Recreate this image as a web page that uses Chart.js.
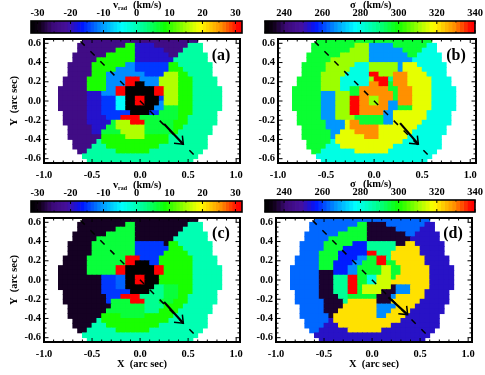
<!DOCTYPE html>
<html lang="en">
<head>
<meta charset="UTF-8">
<title>Velocity maps</title>
<style>
    body { margin: 0; background: #fff; }
    canvas { position: absolute; left: 0; top: 0; filter: blur(0.35px); }
</style>
</head>
<body>
<script src="https://cdn.jsdelivr.net/npm/chart.js"></script>
<script>
    // tick labels
    const xTicks = [-1, -0.5, 0, 0.5, 1];
    const yTicks = [-0.6, -0.4, -0.2, 0, 0.2, 0.4, 0.6];
    const xMinor = [-0.9, -0.8, -0.7, -0.6, -0.4, -0.3, -0.2, -0.1, 0.1, 0.2, 0.3, 0.4, 0.6, 0.7, 0.8, 0.9];
    const yMinor = [-0.55, -0.5, -0.45, -0.35, -0.3, -0.25, -0.15, -0.1, -0.05, 0.05, 0.1, 0.15, 0.25, 0.3, 0.35, 0.45, 0.5, 0.55];
    const vradTicks = [-30, -20, -10, 0, 10, 20, 30];
    const sigmaTicks = [240, 260, 280, 300, 320, 340];
    const vradMinor = [-25, -15, -5, 5, 15, 25];
    const sigmaMinor = [230, 250, 270, 290, 310, 330];

    // colour table, position along the bar
    const cmapPos = [0, 0.04, 0.1, 0.17, 0.24, 0.33, 0.43, 0.54, 0.635, 0.73, 0.8, 0.9, 0.98, 1];
    const cmapRgb = [[0,0,0],[16,0,24],[60,10,120],[70,16,156],[0,20,255],[0,144,255],[0,255,255],[0,255,136],[16,255,0],[160,255,0],[255,255,0],[255,144,0],[255,0,0],[255,0,0]];

    // colour bar steps
    const vradSteps = [-32,-31,-30,-29,-28,-27,-26,-25,-24,-23,-22,-21,-20,-19,-18,-17,-16,-15,-14,-13,-12,-11,-10,-9,-8,-7,-6,-5,-4,-3,-2,-1,0,1,2,3,4,5,6,7,8,9,10,11,12,13,14,15,16,17,18,19,20,21,22,23,24,25,26,27,28,29,30,31];
    const sigmaSteps = [230,232,234,236,238,240,242,244,246,248,250,252,254,256,258,260,262,264,266,268,270,272,274,276,278,280,282,284,286,288,290,292,294,296,298,300,302,304,306,308,310,312,314,316,318,320,322,324,326,328,330,332,334,336,338];

    // binned values, one letter per bin
    const valuesA = {k:-32, p:-24, i:-19, b:-15, l:-11, c:-4.5, s:2, m:1, g:6, G:9, y:15.5, r:31};
    const valuesB = {g:296, c:280, y:310, Y:316, l:267, s:288, o:329, r:338};
    const valuesC = {k:-32, d:-29, b:-15, B:-13, r:31, s:2, m:0, g:6, G:9};
    const valuesD = {d:236, i:252, b:257, B:263, l:266, c:281, s:288, g:296, G:301, y:314, Y:321, r:338};

    // rows top to bottom, letter + first-last column (34 columns of 0.05 arcsec)
    const rowsA = [
        "p5-28",
        "p4-13 G14-15 i16-19 p20-26 m27-29",
        "p4-11 G12-15 i16-21 p22-25 m26-29",
        "p3-9 G10-15 i16-22 p23-24 m25-30",
        "p3-7 G8-15 i16-23 m24-30",
        "p2-6 G7-13 l14-15 b16-22 G23-24 m25-31",
        "p2-6 G7-11 l12-15 b16-22 G23-25 m26-31",
        "p2-6 G7-9 l10-17 b18-21 y22-24 G25-26 m27-31",
        "p1-5 G6-9 l10-13 r14-16 l17-20 y21-24 G25-27 m28-32",
        "p1-5 G6-9 l10-13 r14-15 k16-17 l18-20 y21-24 G25-27 m28-32",
        "p0-5 G6-9 l10-11 r12-13 k14-19 r20-21 y22-24 G25-27 m28-33",
        "p0-5 i6-8 l9-11 r12-13 k14-19 r20-21 y22-24 G25-27 m28-33",
        "p0-5 i6-8 b9-11 c12-13 k14-15 r16-17 k18-20 b21 y22-24 G25-27 m28-33",
        "p0-5 i6-8 b9-11 c12-13 k14-15 r16-17 k18-20 l21 y22-24 G25-27 m28-33",
        "p0-5 i6-8 b9-11 c12-13 k14-19 l20-21 g22-24 G25-27 m28-33",
        "p1-5 i6-8 b9-14 k15-18 b19-20 g21-24 G25-27 m28-32",
        "p1-5 i6-9 b10-12 r13-16 g17-24 G25-26 m27-32",
        "p1-5 i6-10 g11 y12-14 r15-17 g18-23 G24-26 m27-32",
        "p2-6 i7-9 g10-11 y12-17 g18-23 G24-25 m26-31",
        "p2-6 i7-8 g9-12 y13-17 g18-23 G24 m25-31",
        "p2-8 G9-13 y14-17 G18-22 m23-30",
        "p3-7 m8 G9-22 m23-30",
        "p3-6 m7-9 G10-20 m21-30",
        "p4-5 m6-11 G12-18 m19-29",
        "m5-28",
        "m6-27"
    ];
    const rowsB = [
        "g5-28",
        "g4-12 y13-15 l16-20 g21-27 c28-29",
        "g4-11 y12-15 l16-22 g23-26 c27-29",
        "g3-9 y10-15 l16-23 g24-25 c26-30",
        "g3-7 y8-15 l16-24 c25-30",
        "g2-6 y7-12 c13-15 y16-21 l22 Y23-25 c26-31",
        "g2-6 y7-11 c12-15 y16-21 l22 Y23-26 c27-31",
        "g2-5 y6-10 c11-15 r16-17 y18-20 o21-23 Y24-27 c28-31",
        "g1-5 y6-9 c10-15 y16 r17-19 s20 o21-23 Y24-28 c29-32",
        "g1-5 y6-9 c10-15 o16-17 r18-19 g20 o21-23 Y24-28 c29-32",
        "g0-5 y6-9 c10-11 g12-13 o14-19 g20-21 o22-24 Y25-28 c29-33",
        "g0-5 l6-8 y9-11 g12-13 o14-20 g21 o22-24 Y25-28 c29-33",
        "g0-5 l6-8 y9-11 r12-13 o14-15 y16-17 o18-20 g21 o22-24 Y25-28 c29-33",
        "g0-5 l6-8 y9-11 r12-13 o14-15 y16-17 o18-19 l20-21 o22-24 Y25-28 c29-33",
        "g0-5 l6-8 y9-11 r12-13 o14-19 l20-21 g22-24 Y25-28 c29-33",
        "g1-5 l6-8 y9-11 r12-13 o14-18 l19-20 Y21-27 c28-32",
        "g1-5 l6-8 y9-12 g13-18 l19-20 Y21-27 c28-32",
        "g1-6 l7-10 Y11 o12-13 g14-18 l19-20 Y21-26 c27-32",
        "g2-6 l7-10 Y11 o12-17 Y18-25 c26-31",
        "g2-7 l8-9 Y10-12 o13-17 Y18-24 c25-31",
        "g2-7 l8 Y9-14 o15-17 Y18-23 c24-30",
        "g3-7 c8 Y9-22 c23-30",
        "g3-6 c7-9 Y10-20 c21-30",
        "g4-5 c6-12 Y13-19 c20-29",
        "c5-28",
        "c6-27"
    ];
    const rowsC = [
        "d5-28",
        "d4-13 g14-15 d16-26 m27-29",
        "d4-11 g12-15 d16-25 m26-29",
        "d3-9 g10-15 d16-24 m25-30",
        "d3-7 g8-15 d16-23 m24-30",
        "d2-6 g7-15 b16-21 d22 G23-24 m25-31",
        "d2-6 g7-15 b16-22 G23-25 m26-31",
        "d2-6 g7-15 b16-21 G22-26 m27-31",
        "d1-5 g6-13 r14-16 b17-20 G21-27 m28-32",
        "d1-5 g6-13 r14-15 k16-18 b19-20 G21-27 m28-32",
        "d0-5 g6-11 r12-13 k14-19 r20-21 G22-27 m28-33",
        "d0-5 g6-11 r12-13 k14-19 r20-21 G22-27 m28-33",
        "d0-8 b9-11 B12-13 k14-15 r16-17 k18-20 G21-27 m28-33",
        "d0-8 b9-11 B12-13 k14-15 r16-17 k18-20 G21-27 m28-33",
        "d0-8 b9-11 B12-13 k14-19 s20-21 g22-24 G25-27 m28-33",
        "d1-8 b9-14 k15-18 s19-21 g22-24 G25-27 m28-32",
        "d1-9 b10-12 r13-16 s17-21 g22-24 G25-26 m27-32",
        "d1-9 b10 g11-14 r15-17 s18-20 g21-23 G24-26 m27-32",
        "d2-10 g11-17 s18-21 G22-25 m26-31",
        "d2-9 g10-17 s18-20 G21-24 m25-31",
        "d2-8 G9-12 g13-17 G18-23 m24-30",
        "d3-7 m8 G9-22 m23-30",
        "d3-6 m7-9 G10-20 m21-30",
        "d4-5 m6-11 G12-18 m19-29",
        "m5-28",
        "m6-27"
    ];
    const rowsD = [
        "B5-28",
        "B4-13 g14-15 d16-19 B20-27 i28-29",
        "B4-11 g12-15 d16-21 B22-26 i27-29",
        "B3-9 g10-15 d16-23 B24-25 i26-30",
        "B3-7 g8-15 d16-24 i25-30",
        "B2-6 g7-12 b13-15 s16-21 d22-23 Y24-25 i26-31",
        "B2-6 g7-10 b11-15 s16-21 Y22-26 i27-31",
        "B2-5 g6-9 b10-15 r16-17 s18-20 Y21-26 i27-31",
        "B1-5 g6-9 b10-13 l14-15 g16-17 r18-19 s20 Y21-27 i28-32",
        "B1-5 g6-8 b9-12 l13-14 g15-17 r18-19 g20-21 Y22-27 i28-32",
        "B0-5 g6-8 b9-11 l12-13 g14-18 y19-20 g21-22 Y23-28 i29-33",
        "B0-5 d6-8 b9-11 l12-13 g14-18 y19-20 g21-22 Y23-28 i29-33",
        "B0-5 d6-8 s9-11 r12-13 g14-15 c16-17 y18-20 g21 Y22-28 i29-33",
        "B0-5 d6-8 s9-11 r12-13 g14-15 c16-17 y18-20 Y21-28 i29-33",
        "B0-5 d6-8 s9-11 r12-13 g14 y15-20 d21 l22-24 Y25-28 i29-33",
        "B1-5 d6-8 s9-11 r12-13 g14 y15-18 d19-21 l22-24 Y25-27 i28-32",
        "B1-5 d6-9 s10-11 g12-17 d18-20 l21 Y22-27 i28-32",
        "B1-6 d7-10 s11 Y12-17 d18-20 Y21-26 i27-32",
        "B2-6 d7-10 Y11-17 l18-21 Y22-25 i26-31",
        "B2-6 d7-9 Y10-17 l18-20 Y21-24 i25-31",
        "B2-7 d8 Y9-17 l18-19 Y20-23 i24-30",
        "B3-7 i8 Y9-22 i23-30",
        "B3-6 i7-9 Y10-20 i21-30",
        "B4-5 i6-11 Y12-18 i19-29",
        "i5-28",
        "i6-27"
    ];

    // major axis line and the arrow on it
    const majorAxis = [{x: -0.62, y: 0.62}, {x: 0.6, y: -0.6}];
    const arrowA = [{x: 0.25, y: -0.24}, {x: 0.45, y: -0.45}];
    const arrowB = [{x: 0.27, y: -0.23}, {x: 0.46, y: -0.45}];
    const arrowC = [{x: 0.25, y: -0.23}, {x: 0.45, y: -0.45}];
    const arrowD = [{x: 0.17, y: -0.18}, {x: 0.37, y: -0.36}];
    const barbOffsets = [{x: -0.01, y: 0.09}, {x: 0, y: 0}, {x: -0.097, y: 0.01}];

    const serif = "'Liberation Serif', serif";
    const tickFont = {family: serif, weight: 'bold', size: 10.5};

    Chart.defaults.animation = false;
    Chart.defaults.responsive = false;
    Chart.defaults.plugins.legend.display = false;
    Chart.defaults.plugins.tooltip.enabled = false;

    function colorAt(t) {
        let i = 0;
        while (i < cmapPos.length - 2 && t > cmapPos[i + 1]) i++;
        const f = Math.min(1, Math.max(0, (t - cmapPos[i]) / (cmapPos[i + 1] - cmapPos[i])));
        const c = cmapRgb[i].map((v, n) => Math.round(v + (cmapRgb[i + 1][n] - v) * f));
        return `rgb(${c[0]},${c[1]},${c[2]})`;
    }

    // turn "p4-13" style rows into one point per cell
    function cellsFrom(rows, values) {
        const cells = [];
        rows.forEach((row, r) => {
            row.split(' ').forEach(seg => {
                const ends = seg.slice(1).split('-').map(Number);
                const last = ends.length > 1 ? ends[1] : ends[0];
                for (let c = ends[0]; c <= last; c++) {
                    cells.push({x: (c - 17 + 0.5) * 0.05, y: (13 - r - 0.5) * 0.05, v: values[seg[0]]});
                }
            });
        });
        return cells;
    }

    function newCanvas() {
        const canvas = document.createElement('canvas');
        canvas.width = 485;
        canvas.height = 375;
        document.body.appendChild(canvas);
        return canvas.getContext('2d');
    }

    function inwardTicks(ctx, scale, values, len, area) {
        values.forEach(v => {
            const p = scale.getPixelForValue(v);
            ctx.beginPath();
            if (scale.isHorizontal()) {
                ctx.moveTo(p, area.top); ctx.lineTo(p, area.top + len);
                ctx.moveTo(p, area.bottom); ctx.lineTo(p, area.bottom - len);
            } else {
                ctx.moveTo(area.left, p); ctx.lineTo(area.left + len, p);
                ctx.moveTo(area.right, p); ctx.lineTo(area.right - len, p);
            }
            ctx.stroke();
        });
    }

    function makePanel(box, rows, values, range, arrow, label, labelX, labelY, withXTitle, withYTitle) {
        const cells = cellsFrom(rows, values);
        const barbs = barbOffsets.map(o => ({x: arrow[1].x + o.x, y: arrow[1].y + o.y}));
        new Chart(newCanvas(), {
            type: 'scatter',
            data: {
                datasets: [
                    {data: arrow, showLine: true, borderColor: '#000', borderWidth: 2.2, pointRadius: 0},
                    {data: barbs, showLine: true, borderColor: '#000', borderWidth: 1.5, pointRadius: 0},
                    {data: majorAxis, showLine: true, borderColor: '#000', borderWidth: 1.5, borderDash: [6, 8], pointRadius: 0},
                    {
                        data: cells,
                        pointStyle: 'rect',
                        pointRadius: 4,
                        pointBorderWidth: 0,
                        pointBackgroundColor: cells.map(c => colorAt((c.v - range[0]) / (range[1] - range[0])))
                    }
                ]
            },
            options: {
                layout: {padding: {left: box.left - 36, top: box.top, right: 485 - box.right, bottom: 375 - box.bottom - 29}},
                scales: {
                    x: {
                        type: 'linear', min: -1, max: box.xMax,
                        afterBuildTicks: s => { s.ticks = xTicks.map(value => ({value})); },
                        afterFit: s => { s.height = 29; },
                        grid: {display: false, drawTicks: false}, border: {display: false},
                        ticks: {font: tickFont, color: '#000', padding: 6, maxRotation: 0, callback: v => v.toFixed(1)},
                        title: {display: withXTitle, text: 'X  (arc sec)', color: '#000', padding: 0,
                            font: {family: serif, weight: 'bold', size: 10.5}}
                    },
                    y: {
                        type: 'linear', min: -0.645, max: 0.645,
                        afterBuildTicks: s => { s.ticks = yTicks.map(value => ({value})); },
                        afterFit: s => { s.width = 36; },
                        grid: {display: false, drawTicks: false}, border: {display: false},
                        ticks: {font: tickFont, color: '#000', padding: 3, callback: v => v.toFixed(1)},
                        title: {display: withYTitle, text: 'Y  (arc sec)', color: '#000', padding: 0,
                            font: {family: serif, weight: 'bold', size: 10.5}}
                    }
                }
            },
            plugins: [{
                id: 'panelFrame',
                afterDatasetsDraw(chart) {
                    const ctx = chart.ctx, a = chart.chartArea;
                    ctx.save();
                    ctx.strokeStyle = '#000';
                    ctx.lineWidth = 1;
                    inwardTicks(ctx, chart.scales.x, xTicks, 4, a);
                    inwardTicks(ctx, chart.scales.x, xMinor, 2.5, a);
                    inwardTicks(ctx, chart.scales.y, yTicks, 4.5, a);
                    inwardTicks(ctx, chart.scales.y, yMinor, 2.5, a);
                    ctx.lineWidth = 2;
                    ctx.strokeRect(a.left, a.top, a.right - a.left, a.bottom - a.top);
                    ctx.fillStyle = '#000';
                    ctx.font = `bold 16px ${serif}`;
                    ctx.textAlign = 'center';
                    ctx.textBaseline = 'middle';
                    ctx.fillText(label, labelX, labelY);
                    ctx.restore();
                }
            }]
        });
    }

    function makeColorBar(box, steps, stepSize, range, ticks, minor, drawTitle) {
        new Chart(newCanvas(), {
            type: 'bar',
            data: {
                labels: [''],
                datasets: steps.map(v => ({
                    data: [[v, v + stepSize]],
                    backgroundColor: colorAt((v + stepSize / 2 - range[0]) / (range[1] - range[0])),
                    borderWidth: 0,
                    grouped: false,
                    categoryPercentage: 1,
                    barPercentage: 1
                }))
            },
            options: {
                indexAxis: 'y',
                layout: {padding: {left: box.left, top: 0, right: 485 - box.right, bottom: 375 - box.bottom}},
                scales: {
                    x: {
                        type: 'linear', position: 'top', min: range[0], max: range[1],
                        afterBuildTicks: s => { s.ticks = ticks.map(value => ({value})); },
                        afterFit: s => { s.height = box.top; },
                        grid: {display: false, drawTicks: false}, border: {display: false},
                        ticks: {font: tickFont, color: '#000', padding: 1, maxRotation: 0}
                    },
                    y: {display: false, afterFit: s => { s.width = 0; }}
                }
            },
            plugins: [{
                id: 'barFrame',
                afterDatasetsDraw(chart) {
                    const ctx = chart.ctx, a = chart.chartArea;
                    ctx.save();
                    ctx.strokeStyle = '#000';
                    ctx.lineWidth = 1;
                    inwardTicks(ctx, chart.scales.x, ticks, 3, a);
                    inwardTicks(ctx, chart.scales.x, minor, 1.5, a);
                    ctx.lineWidth = 1.6;
                    ctx.strokeRect(a.left, a.top, a.right - a.left, a.bottom - a.top);
                    ctx.fillStyle = '#000';
                    ctx.textBaseline = 'middle';
                    drawTitle(ctx, box.top - 16);
                    ctx.restore();
                }
            }]
        });
    }

    function vradTitle(ctx, y) {
        ctx.font = `bold 10.5px ${serif}`;
        ctx.fillText('v', 113, y);
        ctx.font = `bold 6px ${serif}`;
        ctx.fillText('rad', 118, y + 3);
        ctx.font = `bold 10.5px ${serif}`;
        ctx.fillText('(km/s)', 133, y);
    }
    function sigmaTitle(ctx, y) {
        ctx.font = `bold 10.5px ${serif}`;
        ctx.fillText('σ', 350, y);
        ctx.fillText('(km/s)', 363, y);
    }

    makeColorBar({left: 31, right: 242, top: 21, bottom: 33}, vradSteps, 1, [-32, 32], vradTicks, vradMinor, vradTitle);
    makeColorBar({left: 265, right: 475, top: 21, bottom: 33}, sigmaSteps, 2, [230, 340], sigmaTicks, sigmaMinor, sigmaTitle);
    makeColorBar({left: 31, right: 242, top: 201, bottom: 212}, vradSteps, 1, [-32, 32], vradTicks, vradMinor, vradTitle);
    makeColorBar({left: 265, right: 475, top: 200, bottom: 212}, sigmaSteps, 2, [230, 340], sigmaTicks, sigmaMinor, sigmaTitle);

    makePanel({left: 44, right: 240, top: 39, bottom: 163, xMax: 1.04}, rowsA, valuesA, [-32, 32], arrowA, '(a)', 221, 56, false, true);
    makePanel({left: 278, right: 476, top: 39, bottom: 163, xMax: 1.06}, rowsB, valuesB, [230, 340], arrowB, '(b)', 456, 56, false, false);
    makePanel({left: 44, right: 240, top: 218, bottom: 342, xMax: 1.04}, rowsC, valuesC, [-32, 32], arrowC, '(c)', 221, 234, true, true);
    makePanel({left: 276, right: 472, top: 218, bottom: 342, xMax: 1.04}, rowsD, valuesD, [230, 340], arrowD, '(d)', 453, 234, true, false);
</script>
</body>
</html>
